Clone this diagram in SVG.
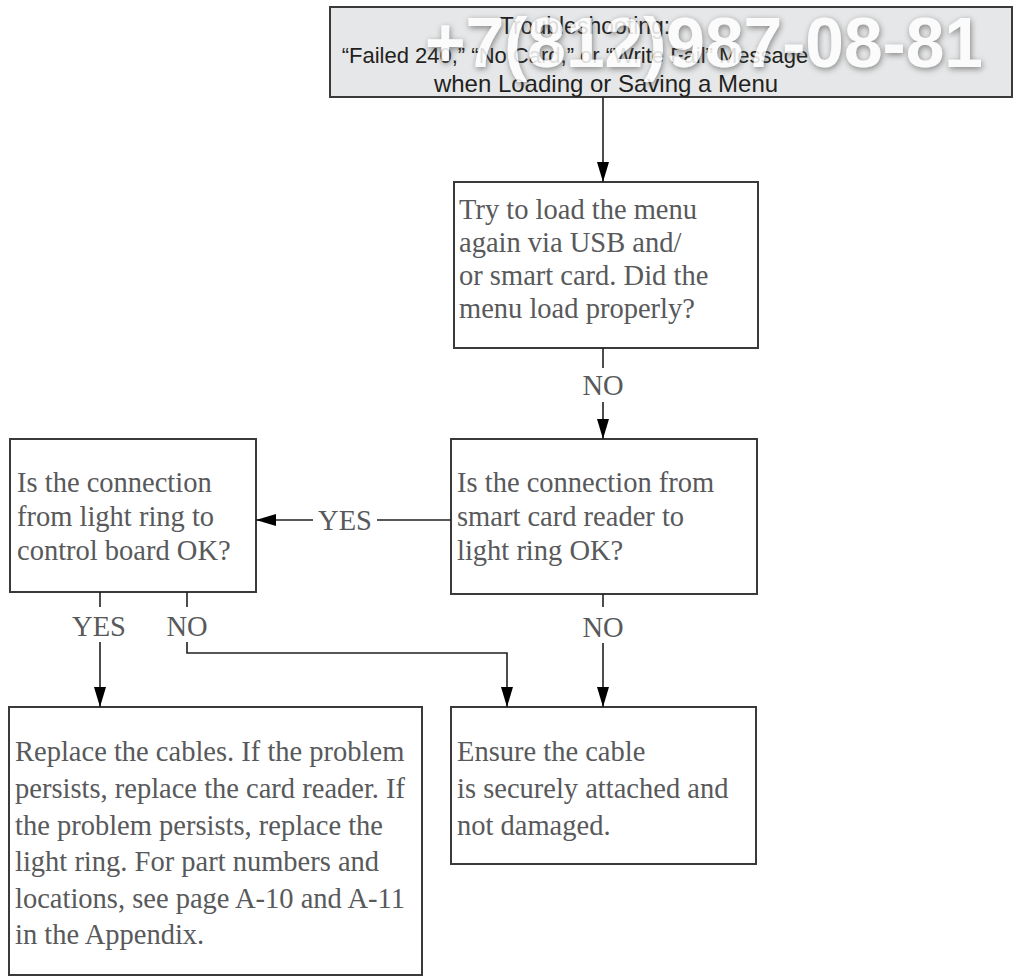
<svg xmlns="http://www.w3.org/2000/svg" width="1019" height="977" viewBox="0 0 1019 977">
<style>
.box{fill:#fff;stroke:#3a3a3a;stroke-width:2}
.hdr{fill:#e6e7e8;stroke:#3a3a3a;stroke-width:2}
.t{font-family:"Liberation Serif","Times New Roman",serif;font-size:28.5px;fill:#58595b}
.lbl{font-family:"Liberation Serif","Times New Roman",serif;font-size:28.5px;fill:#58595b;text-anchor:middle}
.h{font-family:"Liberation Sans",Arial,sans-serif;font-size:23px;fill:#231f20;text-anchor:middle}
.wm{font-family:"Liberation Sans",Arial,sans-serif;font-weight:bold;font-size:70px;fill:#ffffff}
.c{fill:none;stroke:#231f20;stroke-width:1.6}
</style>
<defs>
<marker id="ah" markerUnits="userSpaceOnUse" markerWidth="20" markerHeight="12" refX="20" refY="6" orient="auto">
<path d="M0,0 L20,6 L0,12 z" fill="#000"/>
</marker>
<filter id="sh" x="-10%" y="-30%" width="120%" height="160%">
<feGaussianBlur in="SourceAlpha" stdDeviation="3"/>
<feOffset dx="1" dy="2" result="b"/>
<feFlood flood-color="#555" flood-opacity="0.8"/>
<feComposite in2="b" operator="in"/>
<feMerge><feMergeNode/><feMergeNode in="SourceGraphic"/></feMerge>
</filter>
</defs>
<g id="header">
<rect class="hdr" x="330" y="7" width="682" height="90"/>
<text class="h" x="585" y="34">Troubleshooting:</text>
<text class="h" x="575" y="63" style="font-size:22px">“Failed 240,” “No Card,” or “Write Fail” Message</text>
<text class="h" x="606" y="92" style="font-size:24px">when Loading or Saving a Menu</text>
<text class="wm" x="425" y="67" textLength="558" lengthAdjust="spacingAndGlyphs" filter="url(#sh)" opacity="0.85">+7(812)987-08-81</text>
</g>
<g id="n_load">
<rect class="box" x="454" y="182" width="304" height="166"/>
<text class="t" x="459" y="219">Try to load the menu</text>
<text class="t" x="459" y="252">again via USB and/</text>
<text class="t" x="459" y="285">or smart card. Did the</text>
<text class="t" x="459" y="318">menu load properly?</text>
</g>
<g id="n_reader">
<rect class="box" x="451" y="439" width="306" height="155"/>
<text class="t" x="457" y="492">Is the connection from</text>
<text class="t" x="457" y="526">smart card reader to</text>
<text class="t" x="457" y="560">light ring OK?</text>
</g>
<g id="n_ring">
<rect class="box" x="10" y="439" width="246" height="153"/>
<text class="t" x="17" y="492">Is the connection</text>
<text class="t" x="17" y="526">from light ring to</text>
<text class="t" x="17" y="560">control board OK?</text>
</g>
<g id="n_replace">
<rect class="box" x="9" y="707" width="413" height="268"/>
<text class="t" x="15" y="761">Replace the cables. If the problem</text>
<text class="t" x="15" y="798">persists, replace the card reader. If</text>
<text class="t" x="15" y="835">the problem persists, replace the</text>
<text class="t" x="15" y="871">light ring. For part numbers and</text>
<text class="t" x="15" y="908">locations, see page A-10 and A-11</text>
<text class="t" x="15" y="944">in the Appendix.</text>
</g>
<g id="n_ensure">
<rect class="box" x="451" y="707" width="305" height="157"/>
<text class="t" x="457" y="761">Ensure the cable</text>
<text class="t" x="457" y="798">is securely attached and</text>
<text class="t" x="457" y="835">not damaged.</text>
</g>
<g id="connectors">
<path class="c" d="M603,97 V182" marker-end="url(#ah)"/>
<path class="c" d="M603,348 V368"/>
<text class="lbl" x="603" y="395">NO</text>
<path class="c" d="M603,402 V439" marker-end="url(#ah)"/>
<path class="c" d="M451,520 H377"/>
<text class="lbl" x="345" y="530">YES</text>
<path class="c" d="M313,520 H256" marker-end="url(#ah)"/>
<path class="c" d="M603,594 V607"/>
<text class="lbl" x="603" y="637">NO</text>
<path class="c" d="M603,643 V707" marker-end="url(#ah)"/>
<path class="c" d="M100,592 V607"/>
<text class="lbl" x="99" y="636">YES</text>
<path class="c" d="M100,642 V707" marker-end="url(#ah)"/>
<path class="c" d="M187,592 V607"/>
<text class="lbl" x="187" y="636">NO</text>
<path class="c" d="M187,642 V653 H507 V707" marker-end="url(#ah)"/>
</g>
</svg>
